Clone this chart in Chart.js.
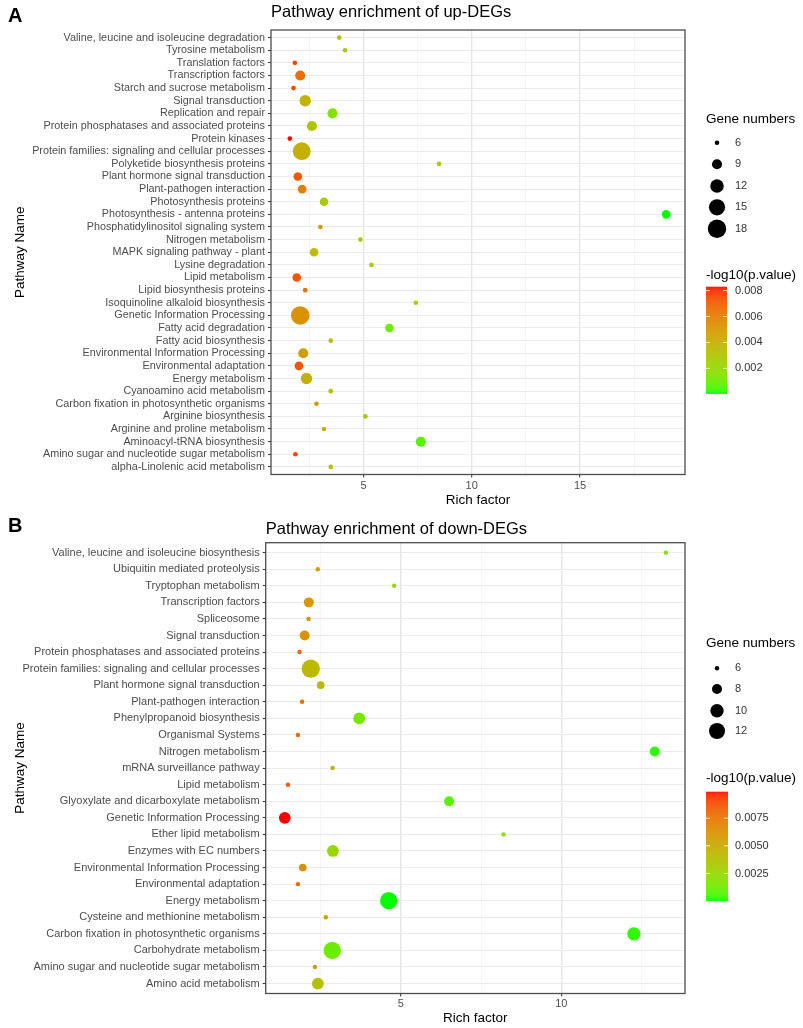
<!DOCTYPE html>
<html>
<head>
<meta charset="utf-8">
<script src="https://cdn.jsdelivr.net/npm/chart.js@4.4.0/dist/chart.umd.min.js"></script>
<style>
body { margin: 0; background: #fff; }
canvas { position: absolute; left: 0; }
#upChart { top: 0; }
#downChart { top: 515px; }
</style>
</head>
<body>
<canvas id="upChart" width="803" height="515"></canvas>
<canvas id="downChart" width="803" height="513"></canvas>
<script>
// ---- panel A: up-DEGs (listed top to bottom) ----
var upPathways = [
    'Valine, leucine and isoleucine degradation', 'Tyrosine metabolism', 'Translation factors',
    'Transcription factors', 'Starch and sucrose metabolism', 'Signal transduction',
    'Replication and repair', 'Protein phosphatases and associated proteins', 'Protein kinases',
    'Protein families: signaling and cellular processes', 'Polyketide biosynthesis proteins',
    'Plant hormone signal transduction', 'Plant-pathogen interaction', 'Photosynthesis proteins',
    'Photosynthesis - antenna proteins', 'Phosphatidylinositol signaling system', 'Nitrogen metabolism',
    'MAPK signaling pathway - plant', 'Lysine degradation', 'Lipid metabolism', 'Lipid biosynthesis proteins',
    'Isoquinoline alkaloid biosynthesis', 'Genetic Information Processing', 'Fatty acid degradation',
    'Fatty acid biosynthesis', 'Environmental Information Processing', 'Environmental adaptation',
    'Energy metabolism', 'Cyanoamino acid metabolism', 'Carbon fixation in photosynthetic organisms',
    'Arginine biosynthesis', 'Arginine and proline metabolism', 'Aminoacyl-tRNA biosynthesis',
    'Amino sugar and nucleotide sugar metabolism', 'alpha-Linolenic acid metabolism'
];
var upRichFactor = [3.88, 4.15, 1.83, 2.08, 1.77, 2.31, 3.57, 2.62, 1.60, 2.15, 8.49, 1.97, 2.17, 3.18, 18.98,
    3.01, 4.86, 2.72, 5.37, 1.92, 2.31, 7.42, 2.08, 6.20, 3.49, 2.22, 2.02, 2.37, 3.49, 2.83, 5.09, 3.18, 7.65, 1.86, 3.49];
var upGeneNumbers = [6, 6, 6, 9, 6, 10, 9, 9, 6, 17, 6, 8, 8, 8, 8, 6, 6, 8, 6, 8, 6, 6, 18, 8, 6, 9, 8, 10, 6, 6, 6, 6, 9, 6, 6];
var upPValue = [0.0030, 0.0030, 0.0075, 0.0065, 0.0075, 0.0038, 0.0015, 0.0030, 0.0083, 0.0040, 0.0025, 0.0072,
    0.0060, 0.0028, 0.0001, 0.0050, 0.0028, 0.0035, 0.0025, 0.0072, 0.0065, 0.0025, 0.0052, 0.0010, 0.0035,
    0.0048, 0.0072, 0.0040, 0.0035, 0.0050, 0.0030, 0.0040, 0.0007, 0.0075, 0.0035];
var upXTicks = [2.5, 5, 7.5, 10, 12.5, 15, 17.5];
var upSizeBreaks = [6, 9, 12, 15, 18];
var upColorBreaks = ['0.002', '0.004', '0.006', '0.008'];

// ---- panel B: down-DEGs (listed top to bottom) ----
var downPathways = [
    'Valine, leucine and isoleucine biosynthesis', 'Ubiquitin mediated proteolysis', 'Tryptophan metabolism',
    'Transcription factors', 'Spliceosome', 'Signal transduction', 'Protein phosphatases and associated proteins',
    'Protein families: signaling and cellular processes', 'Plant hormone signal transduction',
    'Plant-pathogen interaction', 'Phenylpropanoid biosynthesis', 'Organismal Systems', 'Nitrogen metabolism',
    'mRNA surveillance pathway', 'Lipid metabolism', 'Glyoxylate and dicarboxylate metabolism',
    'Genetic Information Processing', 'Ether lipid metabolism', 'Enzymes with EC numbers',
    'Environmental Information Processing', 'Environmental adaptation', 'Energy metabolism',
    'Cysteine and methionine metabolism', 'Carbon fixation in photosynthetic organisms',
    'Carbohydrate metabolism', 'Amino sugar and nucleotide sugar metabolism', 'Amino acid metabolism'
];
var downRichFactor = [13.26, 2.41, 4.79, 2.13, 2.12, 2.00, 1.84, 2.19, 2.50, 1.92, 3.70, 1.79, 12.91, 2.87,
    1.48, 6.50, 1.38, 8.20, 2.88, 1.94, 1.79, 4.62, 2.66, 12.26, 2.86, 2.32, 2.41];
var downGeneNumbers = [6, 6, 6, 8, 6, 8, 6, 14, 7, 6, 9, 6, 8, 6, 6, 8, 9, 6, 9, 7, 6, 13, 6, 10, 13, 6, 9];
var downPValue = [0.0020, 0.0055, 0.0025, 0.0060, 0.0062, 0.0062, 0.0078, 0.0042, 0.0042, 0.0078, 0.0015,
    0.0080, 0.0003, 0.0048, 0.0085, 0.0008, 0.0099, 0.0020, 0.0025, 0.0062, 0.0080, 0.0001, 0.0055, 0.0003,
    0.0012, 0.0060, 0.0038];
var downXTicks = [2.5, 5, 7.5, 10, 12.5];
var downSizeBreaks = [6, 8, 10, 12];
var downColorBreaks = ['0.0025', '0.0050', '0.0075'];

var FONT = '"Liberation Sans", Arial, sans-serif';

// green -> red gradient interpolated in CIELAB (like ggplot's scale_colour_gradient)
function toLinear(c) { c = c / 255; return c <= 0.04045 ? c / 12.92 : Math.pow((c + 0.055) / 1.055, 2.4); }
function toSrgb(c) {
    c = c <= 0.0031308 ? 12.92 * c : 1.055 * Math.pow(c, 1 / 2.4) - 0.055;
    return Math.round(Math.max(0, Math.min(1, c)) * 255);
}
function rgbToLab(rgb) {
    var r = toLinear(rgb[0]), g = toLinear(rgb[1]), b = toLinear(rgb[2]);
    var x = (0.4124 * r + 0.3576 * g + 0.1805 * b) / 0.95047;
    var y = 0.2126 * r + 0.7152 * g + 0.0722 * b;
    var z = (0.0193 * r + 0.1192 * g + 0.9505 * b) / 1.08883;
    var f = function (t) { return t > 0.008856 ? Math.cbrt(t) : 7.787 * t + 16 / 116; };
    return [116 * f(y) - 16, 500 * (f(x) - f(y)), 200 * (f(y) - f(z))];
}
function labToRgb(lab) {
    var fy = (lab[0] + 16) / 116, fx = fy + lab[1] / 500, fz = fy - lab[2] / 200;
    var inv = function (t) { return t > 0.206893 ? t * t * t : (t - 16 / 116) / 7.787; };
    var x = inv(fx) * 0.95047, y = inv(fy), z = inv(fz) * 1.08883;
    var r = 3.2406 * x - 1.5372 * y - 0.4986 * z;
    var g = -0.9689 * x + 1.8758 * y + 0.0415 * z;
    var b = 0.0557 * x - 0.2040 * y + 1.0570 * z;
    return 'rgb(' + toSrgb(r) + ',' + toSrgb(g) + ',' + toSrgb(b) + ')';
}
var LOW = rgbToLab([0, 255, 0]), HIGH = rgbToLab([255, 0, 0]);
function gradColor(t) {
    return labToRgb([0, 1, 2].map(function (k) { return LOW[k] + (HIGH[k] - LOW[k]) * t; }));
}

function decorPlugin(o, pMin, pMax) {
    return {
        id: 'decor',
        afterDraw: function (chart) {
            var ctx = chart.ctx, a = chart.chartArea, L = o.legend;
            ctx.save();
            // panel border
            ctx.strokeStyle = '#4d4d4d';
            ctx.lineWidth = 1.3;
            ctx.strokeRect(a.left, a.top, a.right - a.left, a.bottom - a.top);
            // tag and title
            ctx.textAlign = 'left';
            ctx.textBaseline = 'middle';
            ctx.fillStyle = '#000';
            ctx.font = 'bold 20px ' + FONT;
            ctx.fillText(o.tag, 8, o.tagY);
            ctx.font = '16.5px ' + FONT;
            ctx.fillText(o.title, a.left, o.titleY);
            // size legend
            ctx.font = '13.5px ' + FONT;
            ctx.fillText('Gene numbers', L.x, L.sizeTitleY);
            o.sizeBreaks.forEach(function (v, i) {
                ctx.beginPath();
                ctx.arc(L.dotX, L.dotY[i], o.dotSize(v) / 2, 0, 2 * Math.PI);
                ctx.fillStyle = '#000';
                ctx.fill();
                ctx.fillStyle = '#333';
                ctx.font = '11px ' + FONT;
                ctx.fillText(String(v), L.labelX, L.dotY[i]);
            });
            // colour bar
            ctx.fillStyle = '#000';
            ctx.font = '13.5px ' + FONT;
            ctx.fillText('-log10(p.value)', L.x, L.colorTitleY);
            var h = L.barBottom - L.barTop;
            for (var k = 0; k < h; k++) {
                ctx.fillStyle = gradColor(1 - (k + 0.5) / h);
                ctx.fillRect(L.x, L.barTop + k, L.barWidth, 1.2);
            }
            ctx.font = '11px ' + FONT;
            o.colorBreaks.forEach(function (s) {
                var y = L.barBottom - (parseFloat(s) - pMin) / (pMax - pMin) * h;
                ctx.strokeStyle = 'rgba(255,255,255,0.8)';
                ctx.lineWidth = 1;
                ctx.beginPath();
                ctx.moveTo(L.x, y); ctx.lineTo(L.x + 4, y);
                ctx.moveTo(L.x + L.barWidth - 4, y); ctx.lineTo(L.x + L.barWidth, y);
                ctx.stroke();
                ctx.fillStyle = '#333';
                ctx.fillText(s, L.labelX, y);
            });
            ctx.restore();
        }
    };
}

function makePanel(id, o) {
    var n = o.pathways.length;
    var pMin = Math.min.apply(null, o.pvalues), pMax = Math.max.apply(null, o.pvalues);
    var rMin = Math.min.apply(null, o.rich), rMax = Math.max.apply(null, o.rich);
    var pad = (rMax - rMin) * 0.05;
    var points = o.pathways.map(function (name, i) { return { x: o.rich[i], y: i }; });
    var isMajor = function (ctx) { return ctx.tick && ctx.tick.value % 5 === 0; };

    new Chart(document.getElementById(id), {
        type: 'scatter',
        data: {
            datasets: [{
                data: points,
                pointRadius: o.genes.map(function (g) { return o.dotSize(g) / 2; }),
                pointBackgroundColor: o.pvalues.map(function (p) { return gradColor((p - pMin) / (pMax - pMin)); }),
                pointBorderWidth: 0
            }]
        },
        options: {
            responsive: false,
            animation: false,
            events: [],
            layout: { padding: { top: o.area.top, right: 803 - o.area.right, left: 0, bottom: 0 } },
            plugins: { legend: { display: false }, tooltip: { enabled: false } },
            scales: {
                x: {
                    type: 'linear',
                    min: rMin - pad,
                    max: rMax + pad,
                    afterBuildTicks: function (s) { s.ticks = o.xTicks.map(function (v) { return { value: v }; }); },
                    afterFit: function (s) { s.height = o.height - o.area.bottom; },
                    border: { display: false },
                    grid: {
                        color: function (ctx) { return isMajor(ctx) ? '#e6e6e6' : '#f2f2f2'; },
                        lineWidth: function (ctx) { return isMajor(ctx) ? 1.4 : 0.8; },
                        tickColor: function (ctx) { return isMajor(ctx) ? '#333' : 'rgba(0,0,0,0)'; },
                        tickWidth: 1,
                        tickLength: 3
                    },
                    ticks: {
                        autoSkip: false,
                        maxRotation: 0,
                        padding: o.xTickPad,
                        color: '#4d4d4d',
                        font: { family: FONT, size: 11 },
                        callback: function (v) { return v % 5 === 0 ? v : ''; }
                    },
                    title: {
                        display: true,
                        text: 'Rich factor',
                        color: '#000',
                        font: { family: FONT, size: 13.5 },
                        padding: { top: 0, bottom: o.xTitlePad }
                    }
                },
                y: {
                    type: 'linear',
                    reverse: true,
                    min: -0.6,
                    max: n - 0.4,
                    afterBuildTicks: function (s) { s.ticks = o.pathways.map(function (p, i) { return { value: i }; }); },
                    afterFit: function (s) { s.width = o.area.left; },
                    border: { display: false },
                    grid: { color: '#ebebeb', lineWidth: 1.1, tickColor: '#333', tickWidth: 1, tickLength: 3 },
                    ticks: {
                        autoSkip: false,
                        padding: 3,
                        color: '#4d4d4d',
                        font: { family: FONT, size: o.yFont },
                        callback: function (v) { return o.pathways[v]; }
                    },
                    title: {
                        display: true,
                        text: 'Pathway Name',
                        color: '#000',
                        font: { family: FONT, size: 13.5 },
                        padding: { top: 12, bottom: 0 }
                    }
                }
            }
        },
        plugins: [decorPlugin(o, pMin, pMax)]
    });
}

makePanel('upChart', {
    pathways: upPathways, rich: upRichFactor, genes: upGeneNumbers, pvalues: upPValue,
    xTicks: upXTicks, sizeBreaks: upSizeBreaks, colorBreaks: upColorBreaks,
    tag: 'A', tagY: 16, title: 'Pathway enrichment of up-DEGs', titleY: 12.5,
    height: 515, area: { left: 271, right: 685, top: 30, bottom: 474.5 },
    yFont: 10.8, xTickPad: 2, xTitlePad: 6.5,
    dotSize: function (v) { return 5.17 * Math.sqrt(v - 5.2); },
    legend: { x: 706, dotX: 717, labelX: 735, sizeTitleY: 119, dotY: [142.7, 164.3, 186, 207.3, 228.7],
              colorTitleY: 275.7, barTop: 286.7, barBottom: 393, barWidth: 21 }
});

makePanel('downChart', {
    pathways: downPathways, rich: downRichFactor, genes: downGeneNumbers, pvalues: downPValue,
    xTicks: downXTicks, sizeBreaks: downSizeBreaks, colorBreaks: downColorBreaks,
    tag: 'B', tagY: 11, title: 'Pathway enrichment of down-DEGs', titleY: 14,
    height: 513, area: { left: 265.7, right: 685, top: 27.7, bottom: 478.5 },
    yFont: 11, xTickPad: 1, xTitlePad: 2,
    dotSize: function (v) { return 6.3 * Math.sqrt(v - 5.5); },
    legend: { x: 706, dotX: 717, labelX: 735, sizeTitleY: 128, dotY: [153.3, 174, 195.7, 216],
              colorTitleY: 263, barTop: 276.7, barBottom: 385, barWidth: 22 }
});
</script>
</body>
</html>
